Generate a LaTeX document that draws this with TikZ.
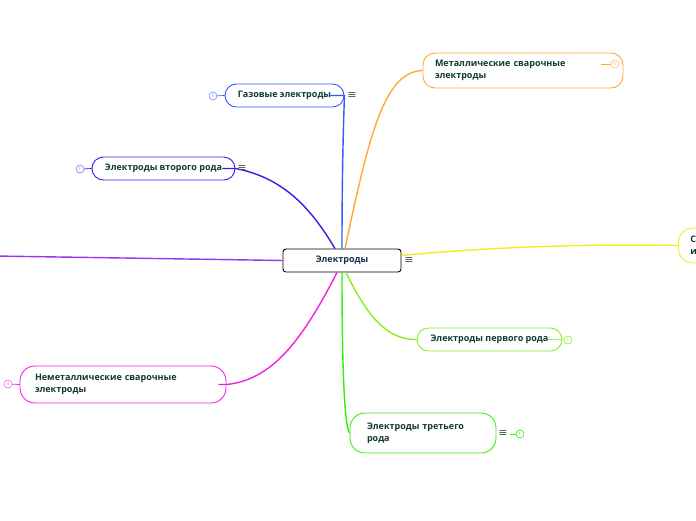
\documentclass[tikz,border=0pt]{standalone}
\usepackage{fontspec}
\setmainfont{Open Sans}
\newfontfamily\symf{DejaVu Sans}
\definecolor{cGas}{HTML}{2F5BFF}
\definecolor{cInd}{HTML}{3A18EE}
\definecolor{cOr}{HTML}{FFAA33}
\definecolor{cYel}{HTML}{EEEE22}
\definecolor{cYG}{HTML}{88EE22}
\definecolor{cGr}{HTML}{33EE11}
\definecolor{cMag}{HTML}{EE22DD}
\definecolor{cPur}{HTML}{9933EE}
\definecolor{txtG}{HTML}{0F3A2E}
\definecolor{txtN}{HTML}{1B2A50}
\definecolor{icon}{HTML}{3D5A4D}
\begin{document}
\begin{tikzpicture}[x=1pt,y=-1pt,
  lbl/.style={font=\bfseries\fontsize{9}{12}\selectfont, text=txtG},
  pill/.style={lbl, draw, line width=0.9pt, fill=white, inner sep=0pt, align=center},
  pill2/.style={lbl, draw, line width=0.9pt, fill=white, inner xsep=12pt, inner ysep=0pt, align=left},
  conn/.style={line width=1.4pt},
  badge/.style={circle, draw, line width=0.6pt, minimum size=8pt, inner sep=0pt, fill=white, font=\fontsize{4.5}{5}\selectfont},
  menu/.style={font=\symf\fontsize{11}{11}\selectfont, text=icon, inner sep=0pt}
]
\useasboundingbox (0,0) rectangle (696,520);

\coordinate (leftend) at (-5,256);

% nodes
\node[lbl, draw=black, line width=0.9pt, rounded corners=3pt, minimum width=118pt, minimum height=23pt, inner sep=0pt, text=txtN, fill=white] (ctr) at (342,260.5) {Электроды};

\node[pill, draw=cGas, rounded corners=11.5pt, minimum width=119pt, minimum height=23pt] (gas) at (284.5,95.5) {Газовые электроды};
\node[pill, draw=cInd, rounded corners=11.5pt, minimum width=143pt, minimum height=23pt] (ind) at (163.5,168.5) {Электроды второго рода};
\node[pill2, draw=cOr, rounded corners=12pt, text width=176pt, minimum height=35pt] (met) at (523,70.5) {Металлические сварочные\\электроды};
\node[pill2, draw=cYel, rounded corners=14pt, text width=100pt, minimum height=35pt, anchor=west] (yel) at (678,245.5) {С\\и};
\node[pill, draw=cYG, rounded corners=11.5pt, minimum width=145pt, minimum height=23pt] (first) at (489.5,339.5) {Электроды первого рода};
\node[pill2, draw=cGr, inner xsep=17pt, rounded corners=15pt, text width=112pt, minimum height=40pt] (third) at (423,433) {Электроды третьего\\рода};
\node[pill2, draw=cMag, inner xsep=15pt, rounded corners=15pt, text width=176pt, minimum height=37pt] (nonmet) at (123,384.5) {Неметаллические сварочные\\электроды};

% connectors
\draw[conn, cGas] ([xshift=0pt]ctr.north) .. controls (342,160) and (344,110) .. (gas.east) -- ([xshift=-14pt]gas.east);
\draw[conn, cInd] ([xshift=-7pt]ctr.north) .. controls (312,210) and (285,178) .. (ind.east) -- ([xshift=-13pt]ind.east);
\draw[conn, cOr] ([xshift=3pt]ctr.north) .. controls (370,130) and (385,72) .. (met.west);
\draw[conn, cYel] (ctr.east) ++(0,-5) coordinate (ye) .. controls (500,246) and (600,244) .. (yel.west);
\draw[conn, cYG] ([xshift=4pt]ctr.south) .. controls (368,318) and (388,340) .. (first.west);
\draw[conn, cGr] ([xshift=0pt]ctr.south) .. controls (342,360) and (344,425) .. (third.west);
\draw[conn, cMag] ([xshift=-5pt]ctr.south) .. controls (300,345) and (270,380) .. (nonmet.east) -- ([xshift=-8pt]nonmet.east);
\draw[conn, cPur] (ctr.west) -- (leftend);

% badges
\node[badge, draw=cGas!70!white, text=cGas!70!white] (bg) at (213,96) {1};
\draw[cGas, line width=0.7pt] (bg) -- (gas.west);
\node[badge, draw=cInd!60!white, text=cInd!60!white] (bi) at (80,169) {1};
\draw[cInd, line width=0.7pt] (bi) -- (ind.west);
\node[badge, draw=cOr!70!white, text=cOr!70!white] (bo) at (615,64) {8};
\draw[cOr, line width=0.7pt] (bo) -- ++(-14,0) coordinate (boe);
\node[badge, draw=cYG, text=cYG] (bf) at (568,340) {1};
\draw[cYG, line width=0.7pt] (bf) -- ([xshift=-14pt]first.east);
\node[badge, draw=cGr, text=cGr] (bt) at (520,434) {1};
\node[badge, draw=cMag!70!white, text=cMag!70!white] (bn) at (8,384) {4};
\draw[cMag, line width=0.7pt] (bn) -- (nonmet.west);

% menu icons
\node[menu] (mg) at (352,95.5) {≡};
\node[menu] (mi) at (242,169) {≡};
\node[menu] (mc) at (409,261) {≡};
\node[menu] (mt) at (503,434) {≡};
\draw[cGr, line width=0.7pt] (mt.east) ++(2,0) -- (bt.west);
\end{tikzpicture}
\end{document}
